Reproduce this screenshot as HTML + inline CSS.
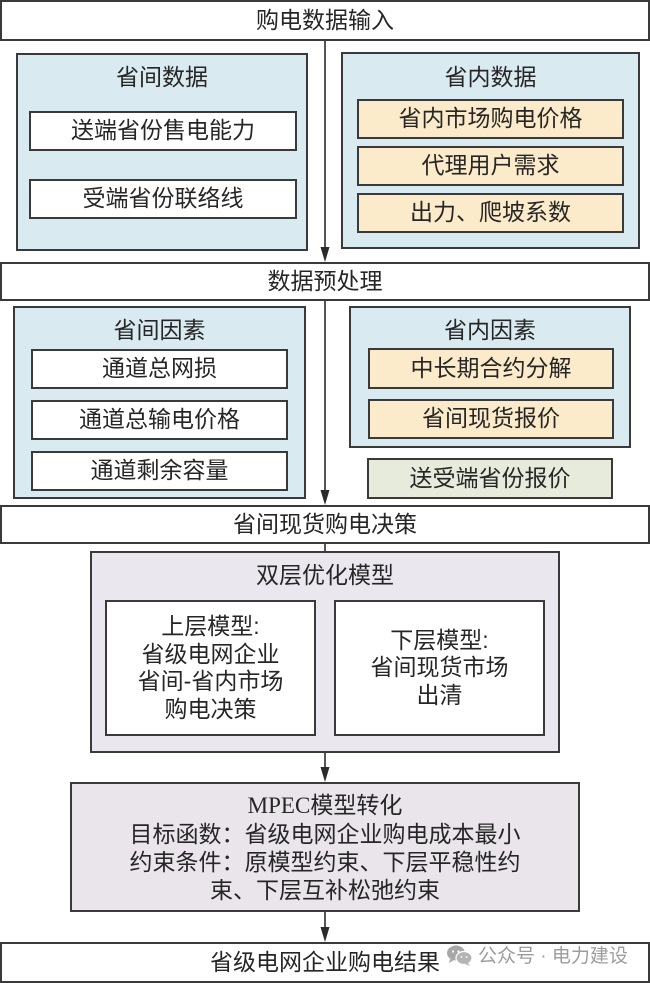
<!DOCTYPE html>
<html>
<head>
<meta charset="utf-8">
<style>
  html,body{margin:0;padding:0;background:#fff;}
  body{width:650px;height:983px;position:relative;overflow:hidden;
    font-family:"Liberation Sans","Noto Sans CJK SC","WenQuanYi Zen Hei",sans-serif;color:#262626;}
  .b{position:absolute;box-sizing:border-box;border:2px solid #3a3a3a;display:flex;align-items:center;justify-content:center;text-align:center;font-size:23px;line-height:27.5px;}
  .w{background:#fff;}
  .blue{background:#d9eaf0;}
  .yel{background:#fcebca;}
  .grn{background:#e6ebdb;}
  .pur{background:#ebe7ee;}
  .mp{background:#e9e5eb;}
  .t{position:absolute;font-size:23px;line-height:26px;text-align:center;white-space:nowrap;}
  .serif{font-family:"Liberation Serif","Noto Serif CJK SC",serif;}
</style>
</head>
<body>

<!-- Row 1 -->
<div class="b w" style="left:0;top:0;width:650px;height:41px;">购电数据输入</div>

<div class="b blue" style="left:16px;top:53px;width:292px;height:198px;"></div>
<div class="t" style="left:16px;top:64px;width:292px;">省间数据</div>
<div class="b w" style="left:29px;top:111px;width:268px;height:40px;">送端省份售电能力</div>
<div class="b w" style="left:29px;top:179px;width:268px;height:40px;">受端省份联络线</div>

<div class="b blue" style="left:341px;top:52px;width:299px;height:197px;"></div>
<div class="t" style="left:341px;top:64px;width:299px;">省内数据</div>
<div class="b yel" style="left:357px;top:99px;width:267px;height:40px;">省内市场购电价格</div>
<div class="b yel" style="left:357px;top:146px;width:267px;height:40px;">代理用户需求</div>
<div class="b yel" style="left:357px;top:193px;width:267px;height:40px;">出力、爬坡系数</div>

<!-- Row 2 -->
<div class="b w" style="left:0;top:262px;width:650px;height:39px;">数据预处理</div>

<div class="b blue" style="left:13px;top:306px;width:293px;height:193px;"></div>
<div class="t" style="left:13px;top:317px;width:293px;">省间因素</div>
<div class="b w" style="left:31px;top:349px;width:257px;height:40px;">通道总网损</div>
<div class="b w" style="left:31px;top:400px;width:257px;height:40px;">通道总输电价格</div>
<div class="b w" style="left:31px;top:451px;width:257px;height:40px;">通道剩余容量</div>

<div class="b blue" style="left:349px;top:306px;width:282px;height:142px;"></div>
<div class="t" style="left:349px;top:317px;width:282px;">省内因素</div>
<div class="b yel" style="left:368px;top:348px;width:246px;height:41px;">中长期合约分解</div>
<div class="b yel" style="left:368px;top:399px;width:246px;height:40px;">省间现货报价</div>
<div class="b grn" style="left:367px;top:458px;width:246px;height:41px;">送受端省份报价</div>

<!-- Row 3 -->
<div class="b w" style="left:0;top:505px;width:650px;height:39px;">省间现货购电决策</div>

<div class="b pur" style="left:90px;top:551px;width:470px;height:202px;"></div>
<div class="t" style="left:90px;top:562px;width:470px;">双层优化模型</div>
<div class="b w" style="left:105px;top:600px;width:211px;height:136px;">上层模型:<br>省级电网企业<br>省间-省内市场<br>购电决策</div>
<div class="b w" style="left:334px;top:600px;width:211px;height:136px;">下层模型:<br>省间现货市场<br>出清</div>

<!-- MPEC -->
<div class="b mp" style="left:70px;top:782px;width:510px;height:130px;line-height:28px;">
  <div><span class="serif">MPEC</span>模型转化<br>目标函数：省级电网企业购电成本最小<br>约束条件：原模型约束、下层平稳性约<br>束、下层互补松弛约束</div>
</div>

<!-- Result -->
<div class="b w" style="left:0;top:942px;width:650px;height:41px;">省级电网企业购电结果</div>

<!-- watermark -->
<svg style="position:absolute;left:446px;top:944px;" width="28" height="24" viewBox="0 0 28 24">
  <ellipse cx="10" cy="9" rx="9" ry="7.5" fill="#a8a8a8"/>
  <path d="M4 15 L3 19 L8 16 Z" fill="#a8a8a8"/>
  <ellipse cx="18" cy="14" rx="8" ry="6.5" fill="#b4b4b4" stroke="#fff" stroke-width="1.2"/>
  <path d="M22 19 L24 22 L19 20 Z" fill="#b4b4b4"/>
  <circle cx="7" cy="7.5" r="1.1" fill="#fff"/>
  <circle cx="12.5" cy="7.5" r="1.1" fill="#fff"/>
  <circle cx="15.5" cy="13" r="0.9" fill="#fff"/>
  <circle cx="20.5" cy="13" r="0.9" fill="#fff"/>
</svg>
<div style="position:absolute;left:478px;top:944px;font-size:19px;line-height:26px;color:#9c9c9c;white-space:nowrap;">公众号 · 电力建设</div>

<!-- arrows -->
<svg style="position:absolute;left:0;top:0;" width="650" height="983">
  <g stroke="#2a2a2a" stroke-width="1.6" fill="none">
    <line x1="325" y1="41" x2="325" y2="250"/>
    <line x1="325" y1="301" x2="325" y2="492"/>
    <line x1="325" y1="544" x2="325" y2="551"/>
    <line x1="325" y1="753" x2="325" y2="770"/>
    <line x1="325" y1="912" x2="325" y2="930"/>
  </g>
  <g fill="#2a2a2a">
    <polygon points="320.5,247 329.5,247 325,262"/>
    <polygon points="320.5,490 329.5,490 325,505"/>
    <polygon points="320.5,767 329.5,767 325,782"/>
    <polygon points="320.5,927 329.5,927 325,942"/>
  </g>
</svg>

</body>
</html>
